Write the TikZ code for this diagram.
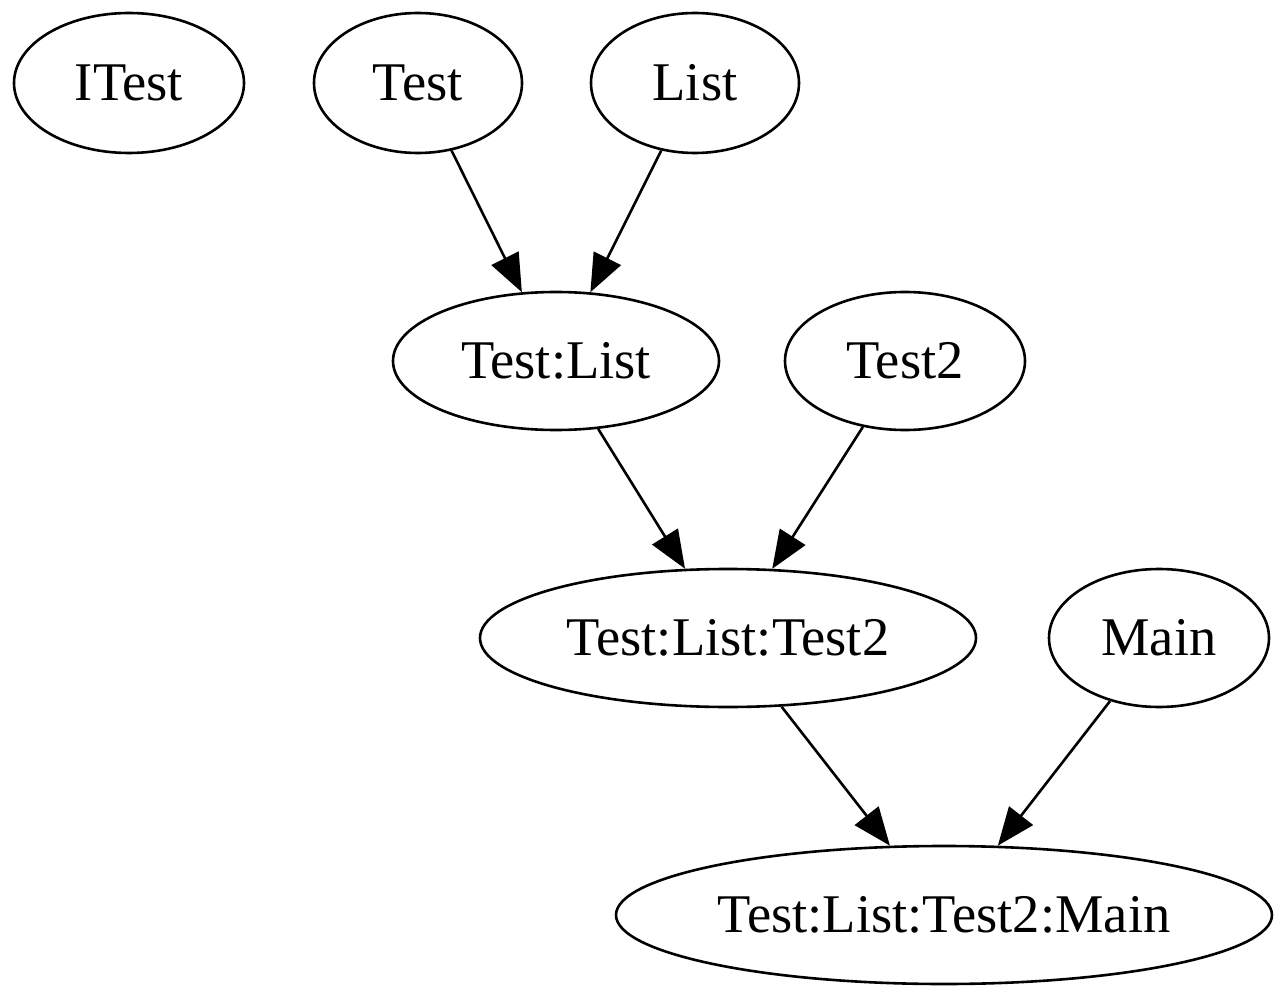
\documentclass[tikz,border=0pt]{standalone}
\usepackage{fontspec}
\setmainfont{Liberation Serif}
\usetikzlibrary{shapes.geometric,arrows.meta}
\begin{document}
\begin{tikzpicture}[x=1pt,y=-1pt,
  gnode/.style={draw, ellipse, line width=2.6pt, inner sep=0pt, font=\fontsize{54.5}{60}\selectfont},
  gedge/.style={draw, line width=2.6pt, -{Triangle[length=38pt,width=30pt]}}]
\useasboundingbox (0,0) rectangle (1288,1000);
\node[gnode, minimum width=230, minimum height=140] (itest) at (129,83) {ITest};
\node[gnode, minimum width=208, minimum height=140] (test) at (418,83) {Test};
\node[gnode, minimum width=208, minimum height=140] (list) at (695,83) {List};
\node[gnode, minimum width=326, minimum height=138] (tl) at (556,361) {Test:List};
\node[gnode, minimum width=240, minimum height=138] (test2) at (905,361) {Test2};
\node[gnode, minimum width=496, minimum height=138] (tlt) at (728,638) {Test:List:Test2};
\node[gnode, minimum width=220, minimum height=138] (main) at (1159,638) {Main};
\node[gnode, minimum width=656, minimum height=138] (tltm) at (944,915) {Test:List:Test2:Main};
\draw[gedge] (test) -- (tl);
\draw[gedge] (list) -- (tl);
\draw[gedge] (tl) -- (tlt);
\draw[gedge] (test2) -- (tlt);
\draw[gedge] (tlt) -- (tltm);
\draw[gedge] (main) -- (tltm);
\end{tikzpicture}
\end{document}
